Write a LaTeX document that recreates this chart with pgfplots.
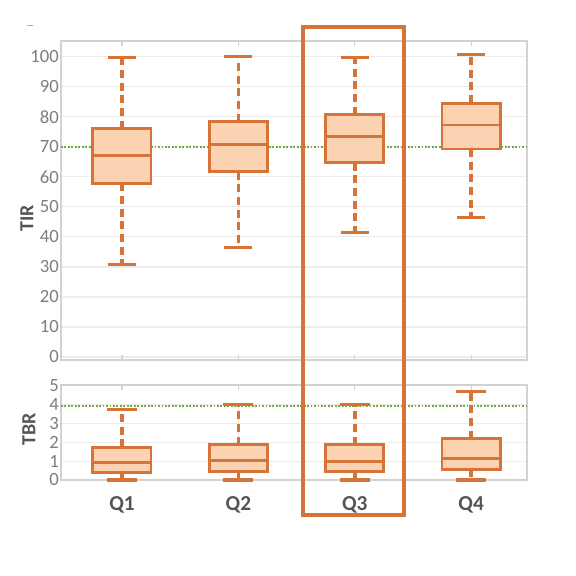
\documentclass[border=0pt]{standalone}
\usepackage{pgfplots}
\pgfplotsset{compat=1.18}
\usepgfplotslibrary{statistics}
\usepackage{fontspec}
\setmainfont{Carlito}

\definecolor{boxedge}{RGB}{214,116,56}
\definecolor{boxfill}{RGB}{251,210,178}
\definecolor{target}{RGB}{118,170,62}
\definecolor{frame}{RGB}{210,210,210}
\definecolor{gridc}{RGB}{236,236,236}
\definecolor{ticktxt}{RGB}{125,125,125}
\definecolor{labtxt}{RGB}{85,85,85}

\pgfplotsset{
  panel/.style={
    scale only axis,
    width=349.5pt,
    xmin=0.476, xmax=4.48,
    xtick={1,2,3,4},
    xtick pos=both,
    ytick pos=left,
    tick align=inside,
    major tick length=4pt,
    axis line style={frame, line width=0.8pt},
    xtick style={frame, line width=0.8pt},
    ytick style={draw=none},
    ymajorgrids,
    grid style={gridc, line width=0.8pt},
    /pgf/number format/assume math mode=true,
    yticklabel style={font=\fontsize{14}{16}\selectfont, text=ticktxt, inner xsep=1.5pt},
    boxplot/draw direction=y,
    clip=false,
  },
  qbox/.style={
    draw=boxedge, fill=boxfill, line width=2.1pt, solid,
    boxplot/draw/median/.code={%
      \draw[boxedge, line width=2.2pt, solid]
        (boxplot box cs:\pgfplotsboxplotvalue{median},0) --
        (boxplot box cs:\pgfplotsboxplotvalue{median},1);
    },
    boxplot/draw/lower whisker/.code={%
      \draw[boxedge, line width=2.8pt, dash pattern=on 6pt off 3.5pt]
        (boxplot cs:\pgfplotsboxplotvalue{lower quartile}) --
        (boxplot cs:\pgfplotsboxplotvalue{lower whisker});
      \draw[boxedge, line width=2.4pt, solid]
        (boxplot whisker cs:\pgfplotsboxplotvalue{lower whisker},0) --
        (boxplot whisker cs:\pgfplotsboxplotvalue{lower whisker},1);
    },
    boxplot/draw/upper whisker/.code={%
      \draw[boxedge, line width=2.8pt, dash pattern=on 6pt off 3.5pt]
        (boxplot cs:\pgfplotsboxplotvalue{upper quartile}) --
        (boxplot cs:\pgfplotsboxplotvalue{upper whisker});
      \draw[boxedge, line width=2.4pt, solid]
        (boxplot whisker cs:\pgfplotsboxplotvalue{upper whisker},0) --
        (boxplot whisker cs:\pgfplotsboxplotvalue{upper whisker},1);
    },
  },
  refline/.style={target, line width=1.6pt, dash pattern=on 1.4pt off 1.2pt},
}

\begin{document}
\begin{tikzpicture}
\path[use as bounding box] (0,0) rectangle (432pt,432pt);

% TIR panel
\begin{axis}[panel,
  at={(45.75pt,162pt)}, anchor=south west,
  height=239.25pt,
  ymin=-1, ymax=105.3,
  ytick={0,10,...,100},
  xticklabels={},
]
\addplot[refline] coordinates {(0.476,70) (4.48,70)};
\addplot[qbox, boxplot prepared={draw position=1, lower whisker=30.9, lower quartile=57.9,
  median=67.3, upper quartile=76.1, upper whisker=99.8, box extend=0.5, whisker extend=0.24}]
  coordinates {};
\addplot[qbox, boxplot prepared={draw position=2, lower whisker=36.4, lower quartile=61.8,
  median=70.7, upper quartile=78.4, upper whisker=100.1, box extend=0.5, whisker extend=0.24}]
  coordinates {};
\addplot[qbox, boxplot prepared={draw position=3, lower whisker=41.4, lower quartile=64.8,
  median=73.4, upper quartile=80.7, upper whisker=99.9, box extend=0.5, whisker extend=0.24}]
  coordinates {};
\addplot[qbox, boxplot prepared={draw position=4, lower whisker=46.4, lower quartile=69.3,
  median=77.3, upper quartile=84.6, upper whisker=100.8, box extend=0.5, whisker extend=0.24}]
  coordinates {};
\end{axis}

% TBR panel
\begin{axis}[panel,
  at={(45.75pt,72pt)}, anchor=south west,
  height=71.25pt,
  ymin=0, ymax=5.05,
  ytick={0,1,...,5},
  xticklabels={Q1,Q2,Q3,Q4},
  xticklabel style={font=\fontsize{16}{18}\selectfont\bfseries, text=labtxt, yshift=-9pt},
]
\addplot[refline] coordinates {(0.476,3.95) (4.48,3.95)};
\addplot[qbox, boxplot prepared={draw position=1, lower whisker=0, lower quartile=0.41,
  median=0.94, upper quartile=1.74, upper whisker=3.76, box extend=0.5, whisker extend=0.26}]
  coordinates {};
\addplot[qbox, boxplot prepared={draw position=2, lower whisker=0, lower quartile=0.44,
  median=1.03, upper quartile=1.88, upper whisker=4.03, box extend=0.5, whisker extend=0.26}]
  coordinates {};
\addplot[qbox, boxplot prepared={draw position=3, lower whisker=0, lower quartile=0.46,
  median=0.99, upper quartile=1.88, upper whisker=4.03, box extend=0.5, whisker extend=0.26}]
  coordinates {};
\addplot[qbox, boxplot prepared={draw position=4, lower whisker=0, lower quartile=0.57,
  median=1.15, upper quartile=2.2, upper whisker=4.7, box extend=0.5, whisker extend=0.26}]
  coordinates {};
\end{axis}

% axis titles
\node[rotate=90, font=\fontsize{15}{17}\selectfont\bfseries, text=labtxt] at (20.25pt,268.5pt) {TIR};
\node[rotate=90, font=\fontsize{15}{17}\selectfont\bfseries, text=labtxt] at (21.75pt,110.25pt) {TBR};

% highlight round Q3
\draw[boxedge, line width=2.4pt] (227.25pt,411.75pt) rectangle (303pt,45.75pt);
% stray mark top left
\draw[gray!70, line width=0.7pt] (20.5pt,413pt) -- (25pt,413pt);
\end{tikzpicture}
\end{document}
